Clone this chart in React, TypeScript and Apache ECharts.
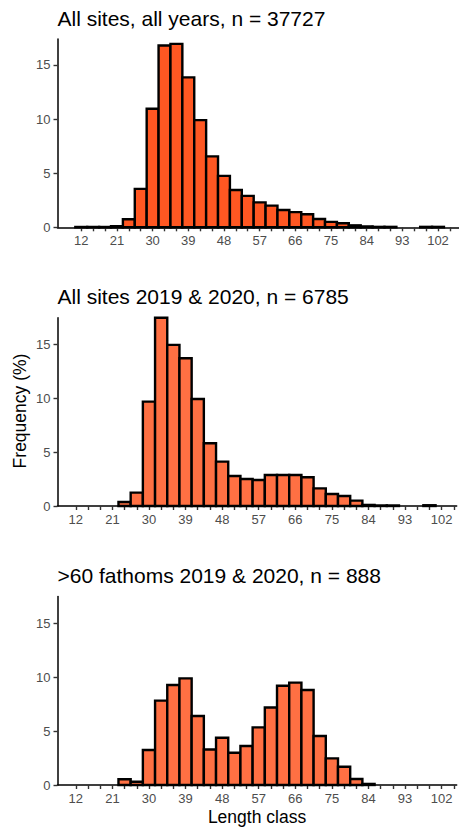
import React, { useEffect, useRef } from "react";
import * as echarts from "echarts";

// Length classes (bin centres, bin width 3)
const lengthClasses = [12, 15, 18, 21, 24, 27, 30, 33, 36, 39, 42, 45, 48, 51, 54, 57, 60, 63, 66, 69, 72, 75, 78, 81, 84, 87, 90, 93, 96, 99, 102];
const binWidth = 3;

// Frequency (%) per length class
const freqAllYears = [0.03, 0.03, 0.03, 0.1, 0.75, 3.55, 10.95, 16.8, 16.95, 13.85, 9.9, 6.55, 4.75, 3.45, 2.9, 2.3, 2.0, 1.6, 1.4, 1.2, 0.77, 0.5, 0.37, 0.18, 0.08, 0.04, 0.04, null, null, 0.04, 0.04];
const freq2019_2020 = [null, null, null, null, 0.37, 1.24, 9.7, 17.5, 14.97, 13.73, 9.95, 5.83, 4.12, 2.79, 2.51, 2.42, 2.88, 2.88, 2.88, 2.67, 1.64, 1.12, 0.93, 0.5, 0.1, 0.05, 0.05, null, null, 0.07, null];
const freqDeep = [null, null, null, null, 0.53, 0.3, 3.25, 7.83, 9.28, 9.9, 6.4, 3.3, 4.39, 3.0, 3.62, 5.35, 7.2, 9.22, 9.5, 8.82, 4.55, 2.47, 1.7, 0.56, 0.1, null, null, null, null, null, null];

const panelTitles = ["All sites, all years, n = 37727", "All sites 2019 & 2020, n = 6785", ">60 fathoms 2019 & 2020, n = 888"];
const xTickValues = [12, 15, 18, 21, 24, 27, 30, 33, 36, 39, 42, 45, 48, 51, 54, 57, 60, 63, 66, 69, 72, 75, 78, 81, 84, 87, 90, 93, 96, 99, 102, 105];
const xLabelValues = [12, 21, 30, 39, 48, 57, 66, 75, 84, 93, 102];
const yTickValues = [0, 5, 10, 15];

const FONT = "'Liberation Sans', Arial, sans-serif";

export default function App() {
  const ref = useRef<HTMLDivElement>(null);
  useEffect(() => {
    if (!ref.current) return;
    const chart = echarts.init(ref.current, undefined, { renderer: "svg" });

    const panels = [
      { data: freqAllYears, fill: "#FF5722", grid: { left: 57.5, top: 39, width: 401.5, height: 188.3 }, xMin: 6.0, xMax: 107.3, yMax: 17.4, titleY: 18 },
      { data: freq2019_2020, fill: "#FF7043", grid: { left: 57.5, top: 317.7, width: 399.2, height: 188.3 }, xMin: 7.5, xMax: 105.7, yMax: 17.5, titleY: 296.5 },
      { data: freqDeep, fill: "#FF7043", grid: { left: 57.5, top: 596.5, width: 399.2, height: 188.5 }, xMin: 7.5, xMax: 105.7, yMax: 17.5, titleY: 575.3 },
    ];

    const axisLine = { show: true, onZero: false, lineStyle: { color: "#000", width: 1.5 } };
    const axisTick = { show: true, length: 4, lineStyle: { color: "#333", width: 1.4 } };

    const option: any = {
      animation: false,
      grid: panels.map((p) => ({ ...p.grid, containLabel: false })),
      xAxis: panels.map((p, i) => ({
        type: "value",
        gridIndex: i,
        min: p.xMin,
        max: p.xMax,
        axisLine,
        axisTick: { ...axisTick, customValues: xTickValues },
        axisLabel: { customValues: xLabelValues, color: "#4D4D4D", fontSize: 13, fontFamily: FONT, margin: 7 },
        splitLine: { show: false },
      })),
      yAxis: panels.map((p, i) => ({
        type: "value",
        gridIndex: i,
        min: 0,
        max: p.yMax,
        axisLine,
        axisTick: { ...axisTick, customValues: yTickValues },
        axisLabel: { customValues: yTickValues, color: "#4D4D4D", fontSize: 13, fontFamily: FONT, margin: 7 },
        splitLine: { show: false },
      })),
      series: panels.map((p, i) => ({
        type: "custom",
        xAxisIndex: i,
        yAxisIndex: i,
        encode: { x: 0, y: 1 },
        data: lengthClasses.map((c, k) => [c, p.data[k]]).filter((d) => d[1] !== null),
        renderItem: (params: any, api: any) => {
          const c = api.value(0);
          const v = api.value(1);
          const a = api.coord([c - binWidth / 2, v]);
          const b = api.coord([c + binWidth / 2, 0]);
          return {
            type: "rect",
            shape: { x: a[0], y: a[1], width: b[0] - a[0], height: b[1] - a[1] },
            style: { fill: p.fill, stroke: "#000", lineWidth: 2.4 },
          };
        },
      })),
      graphic: [
        ...panels.map((p, i) => ({
          type: "text",
          x: 57.5,
          y: p.titleY,
          style: { text: panelTitles[i], font: `21px ${FONT}`, fill: "#000", align: "left", verticalAlign: "middle" },
        })),
        {
          type: "text",
          x: 20,
          y: 411,
          rotation: Math.PI / 2,
          style: { text: "Frequency (%)", font: `17.5px ${FONT}`, fill: "#000", align: "center", verticalAlign: "middle" },
        },
        {
          type: "text",
          x: 257,
          y: 817,
          style: { text: "Length class", font: `17.5px ${FONT}`, fill: "#000", align: "center", verticalAlign: "middle" },
        },
      ],
    };
    chart.setOption(option);
    return () => chart.dispose();
  }, []);
  return <div ref={ref} style={{ position: "absolute", left: 0, top: 0, width: 459, height: 830, background: "#fff" }} />;
}
